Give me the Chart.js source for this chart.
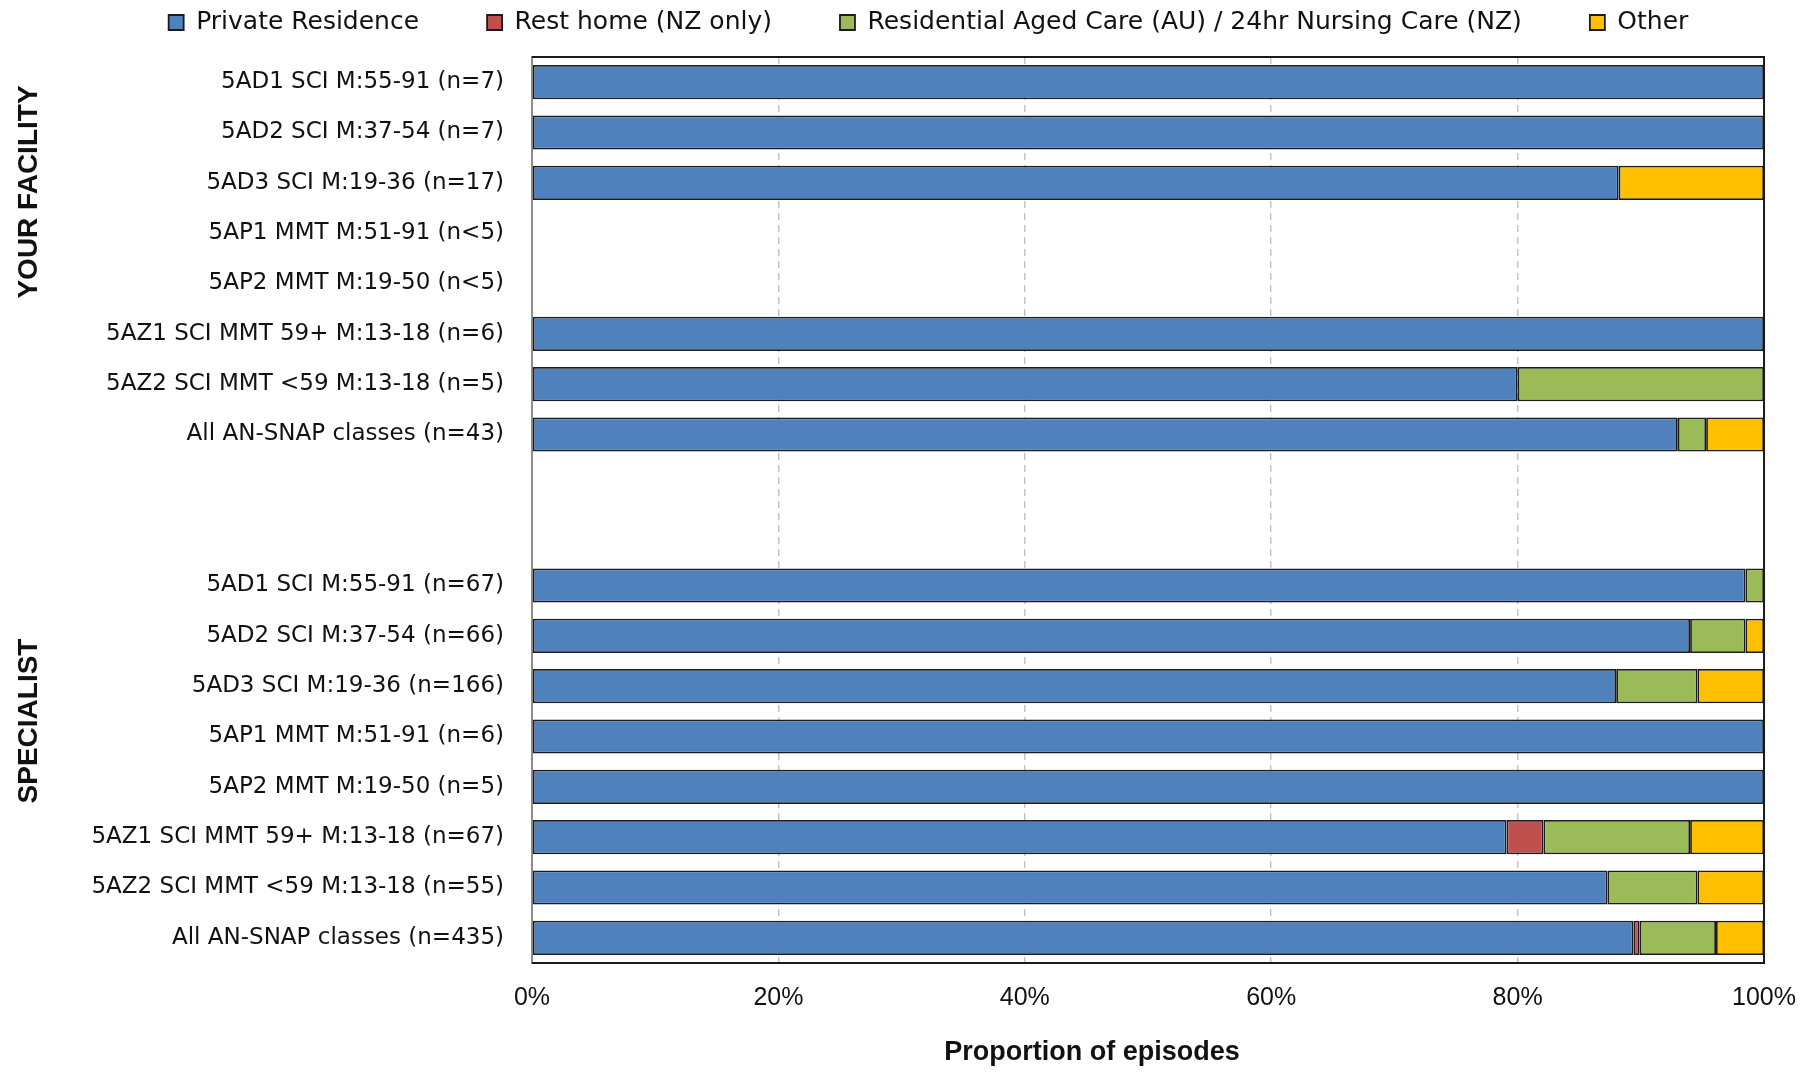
<!DOCTYPE html>
<html>
<head>
<meta charset="utf-8">
<script src="https://cdn.jsdelivr.net/npm/chart.js@4.4.1/dist/chart.umd.min.js"></script>
<style>
	body { margin: 0; background: #fff; }
	#wrap { width: 1806px; height: 1074px; }
</style>
</head>
<body>
<div id="wrap"><canvas id="destChart" width="1806" height="1074"></canvas></div>
<script>
// rows: 8 facility classes, two blank rows, 8 specialist classes
var categories = [
	'5AD1 SCI M:55-91 (n=7)', '5AD2 SCI M:37-54 (n=7)', '5AD3 SCI M:19-36 (n=17)',
	'5AP1 MMT M:51-91 (n<5)', '5AP2 MMT M:19-50 (n<5)', '5AZ1 SCI MMT 59+ M:13-18 (n=6)',
	'5AZ2 SCI MMT <59 M:13-18 (n=5)', 'All AN-SNAP classes (n=43)',
	'', ' ',
	'5AD1 SCI M:55-91 (n=67)', '5AD2 SCI M:37-54 (n=66)', '5AD3 SCI M:19-36 (n=166)',
	'5AP1 MMT M:51-91 (n=6)', '5AP2 MMT M:19-50 (n=5)', '5AZ1 SCI MMT 59+ M:13-18 (n=67)',
	'5AZ2 SCI MMT <59 M:13-18 (n=55)', 'All AN-SNAP classes (n=435)'
];
var privateRes = [100, 100, 88.2, null, null, 100, 80, 93.0, null, null, 98.5, 94.0, 88.0, 100, 100, 79.1, 87.3, 89.4];
var restHome   = [null, null, null, null, null, null, null, null, null, null, null, null, null, null, null, 3.0, null, 0.5];
var resAged    = [null, null, null, null, null, null, 20, 2.3, null, null, 1.5, 4.5, 6.6, null, null, 11.9, 7.3, 6.2];
var other      = [null, null, 11.8, null, null, null, null, 4.7, null, null, null, 1.5, 5.4, null, null, 6.0, 5.4, 3.9];
var xTicks = [0, 20, 40, 60, 80, 100];
var groupLabels = ['YOUR FACILITY', 'SPECIALIST'];
var axisTitle = 'Proportion of episodes';

function makeSet(label, data, color) {
	return {
		label : label,
		data : data,
		xAxisID : 'x',
		backgroundColor : color,
		borderColor : '#1c1c1c',
		borderWidth : 1.8,
		borderSkipped : false,
		barPercentage : 0.68,
		categoryPercentage : 1
	};
}

// frame, group labels and axis title
var extras = {
	id : 'extras',
	afterDatasetsDraw : function(chart) {
		var a = chart.chartArea, ctx = chart.ctx;
		ctx.save();
		ctx.strokeStyle = '#1a1a1a';
		ctx.lineWidth = 2;
		ctx.beginPath();
		ctx.moveTo(a.left, a.top);
		ctx.lineTo(a.right, a.top);
		ctx.lineTo(a.right, a.bottom);
		ctx.lineTo(a.left, a.bottom);
		ctx.stroke();
		ctx.restore();
	},
	afterDraw : function(chart) {
		var a = chart.chartArea, ctx = chart.ctx;
		ctx.save();
		ctx.fillStyle = '#111';
		ctx.textAlign = 'center';
		ctx.textBaseline = 'middle';
		ctx.font = 'bold 28px "Liberation Sans", Arial, sans-serif';
		var ys = [a.top + 135, a.top + 664];
		for (var i = 0; i < groupLabels.length; i++) {
			ctx.save();
			ctx.translate(29, ys[i]);
			ctx.rotate(-Math.PI / 2);
			ctx.fillText(groupLabels[i], 0, 0);
			ctx.restore();
		}
		ctx.font = 'bold 27px "Liberation Sans", Arial, sans-serif';
		ctx.fillText(axisTitle, a.left + 560, a.bottom + 90);
		ctx.restore();
	}
};

var config = {
	type : 'bar',
	data : {
		labels : categories,
		datasets : [
			makeSet('Private Residence', privateRes, '#4F81BD'),
			makeSet('Rest home (NZ only)', restHome, '#C0504D'),
			makeSet('Residential Aged Care (AU) / 24hr Nursing Care (NZ)', resAged, '#9BBB59'),
			makeSet('Other', other, '#FFC000')
		]
	},
	options : {
		indexAxis : 'y',
		responsive : false,
		animation : false,
		layout : {
			padding : { top : -58, left : 84, right : 33, bottom : 0 }
		},
		plugins : {
			tooltip : { enabled : false },
			legend : {
				position : 'top',
				labels : {
					color : '#111',
					boxWidth : 15,
					boxHeight : 15,
					padding : 68,
					font : { family : 'DejaVu Sans', size : 25 }
				}
			}
		},
		scales : {
			x : {
				stacked : true,
				min : 0,
				max : 100,
				afterBuildTicks : function(s) {
					s.ticks = xTicks.map(function(v) { return { value : v }; });
				},
				afterFit : function(s) { s.height = 111; },
				ticks : {
					padding : 10,
					color : '#111',
					font : { family : 'Liberation Sans', size : 25, lineHeight : 2 },
					callback : function(v) { return v + '%'; }
				},
				grid : {
					color : '#c4c4c4',
					lineWidth : 1.5,
					drawTicks : false
				},
				border : { display : true, color : '#1a1a1a', width : 2, dash : [7, 5] }
			},
			xTop : {
				type : 'linear',
				position : 'top',
				display : true,
				afterFit : function(s) { s.height = 12; },
				ticks : { display : false },
				grid : { display : false, drawTicks : false },
				border : { display : false }
			},
			y : {
				stacked : true,
				afterFit : function(s) { s.width = 448; },
				ticks : {
					padding : 28,
					color : '#111',
					autoSkip : false,
					font : { family : 'DejaVu Sans', size : 23 }
				},
				grid : { display : false, drawTicks : false },
				border : { display : true, color : '#8c8c8c', width : 2 }
			}
		}
	},
	plugins : [ extras ]
};

var ctx = document.getElementById('destChart').getContext('2d');
window.destChart = new Chart(ctx, config);
</script>
</body>
</html>
